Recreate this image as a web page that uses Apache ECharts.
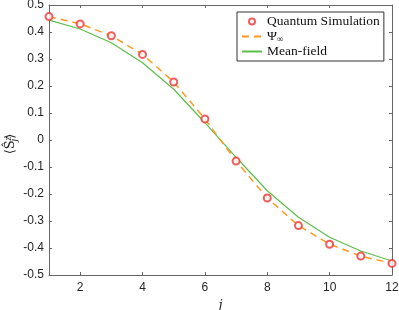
<!DOCTYPE html>
<html><head><meta charset="utf-8">
<script src="https://cdn.jsdelivr.net/npm/echarts@6/dist/echarts.min.js"></script>
<style>html,body{margin:0;padding:0;background:#fff}#c{width:399px;height:310px}</style>
</head><body><div id="c"></div>
<script>
const sites = [1,2,3,4,5,6,7,8,9,10,11,12];
const quantumSim = [0.457,0.430,0.386,0.317,0.215,0.078,-0.078,-0.215,-0.317,-0.386,-0.430,-0.457];
const psiInf = [0.457,0.430,0.386,0.317,0.215,0.078,-0.078,-0.215,-0.317,-0.386,-0.430,-0.457];
const meanField = [0.444,0.411,0.360,0.286,0.188,0.064,-0.064,-0.188,-0.286,-0.360,-0.411,-0.448];
const xTicks = [2,4,6,8,10,12];

const pair = (ys) => sites.map((x,i)=>[x, ys[i]]);
const axisCol = '#666';
const chart = echarts.init(document.getElementById('c'));
chart.setOption({
  animation:false,
  grid:{left:49,right:7,top:5,bottom:35,outerBoundsMode:'none',containLabel:false},
  graphic:[{
    type:'text', x:11, y:144, rotation:Math.PI/2,
    style:{
      text:'{t|⟨Ŝ}{sup|z}{sub|j}{t|⟩}', align:'center', verticalAlign:'middle',
      rich:{
        t:{fontFamily:'DejaVu Serif',fontSize:13,fill:'#262626'},
        sup:{fontFamily:'Liberation Serif',fontStyle:'italic',fontSize:10,fill:'#262626',verticalAlign:'top',padding:[0,0,6,0]},
        sub:{fontFamily:'Liberation Serif',fontStyle:'italic',fontSize:10,fill:'#262626',verticalAlign:'bottom',padding:[6,0,0,-5]}
      }
    }
  }],
  legend:{
    orient:'vertical', left:237, top:12, padding:[2,4,2,4],
    backgroundColor:'#fff', borderColor:'#333', borderWidth:1, borderRadius:0,
    itemWidth:20, itemHeight:6, itemGap:0,
    textStyle:{fontFamily:'Liberation Serif', fontSize:13.5, color:'#111', lineHeight:15,
      rich:{a:{fontFamily:'Liberation Serif',fontSize:13.5,color:'#111',lineHeight:15},
            s:{fontFamily:'Liberation Serif',fontSize:9,color:'#111',verticalAlign:'bottom',padding:[5,0,0,0],lineHeight:15}}},
    formatter: n => n==='Ψ∞' ? '{a|Ψ}{s|∞}' : n,
    data:[
      {name:'Quantum Simulation'},
      {name:'Ψ∞', itemStyle:{opacity:0}},
      {name:'Mean-field', itemStyle:{opacity:0}}
    ]
  },
  xAxis:[{
    type:'value', min:1, max:12,
    axisLine:{show:true,onZero:false,lineStyle:{color:axisCol}},
    axisTick:{show:true,inside:true,length:3,customValues:xTicks,lineStyle:{color:axisCol}},
    axisLabel:{customValues:xTicks,color:'#262626',fontFamily:'Liberation Sans',fontSize:12,margin:7},
    splitLine:{show:false},
    name:'j', nameLocation:'middle', nameGap:16,
    nameTextStyle:{fontFamily:'DejaVu Serif',fontStyle:'italic',fontSize:13,color:'#262626'}
  },{
    type:'value', min:1, max:12, position:'top',
    axisLine:{show:true,onZero:false,lineStyle:{color:axisCol}},
    axisTick:{show:true,inside:true,length:3,customValues:xTicks,lineStyle:{color:axisCol}},
    axisLabel:{show:false}, splitLine:{show:false}
  }],
  yAxis:[{
    type:'value', min:-0.5, max:0.5, interval:0.1,
    axisLine:{show:true,onZero:false,lineStyle:{color:axisCol}},
    axisTick:{show:true,inside:true,length:3,lineStyle:{color:axisCol}},
    axisLabel:{color:'#262626',fontFamily:'Liberation Sans',fontSize:12,margin:5,
      formatter:v=>{const r=Math.round(v*10)/10; return r===0?'0':String(r);}},
    splitLine:{show:false}
  },{
    type:'value', min:-0.5, max:0.5, interval:0.1, position:'right',
    axisLine:{show:true,onZero:false,lineStyle:{color:axisCol}},
    axisTick:{show:true,inside:true,length:3,lineStyle:{color:axisCol}},
    axisLabel:{show:false}, splitLine:{show:false}
  }],
  series:[
    {name:'Ψ∞', type:'line', data:pair(psiInf), symbol:'none', z:3,
     lineStyle:{color:'#ff9a1f',width:1.5,type:[7,5]}, itemStyle:{color:'#ff9a1f'}},
    {name:'Mean-field', type:'line', data:pair(meanField), symbol:'none', z:2,
     lineStyle:{color:'#5cbf4a',width:1.2}, itemStyle:{color:'#5cbf4a'}},
    {name:'Quantum Simulation', type:'scatter', data:pair(quantumSim), symbol:'emptyCircle', symbolSize:7, z:4,
     itemStyle:{color:'#ee3333',borderColor:'#ee3333',borderWidth:1}}
  ]
});
</script></body></html>
